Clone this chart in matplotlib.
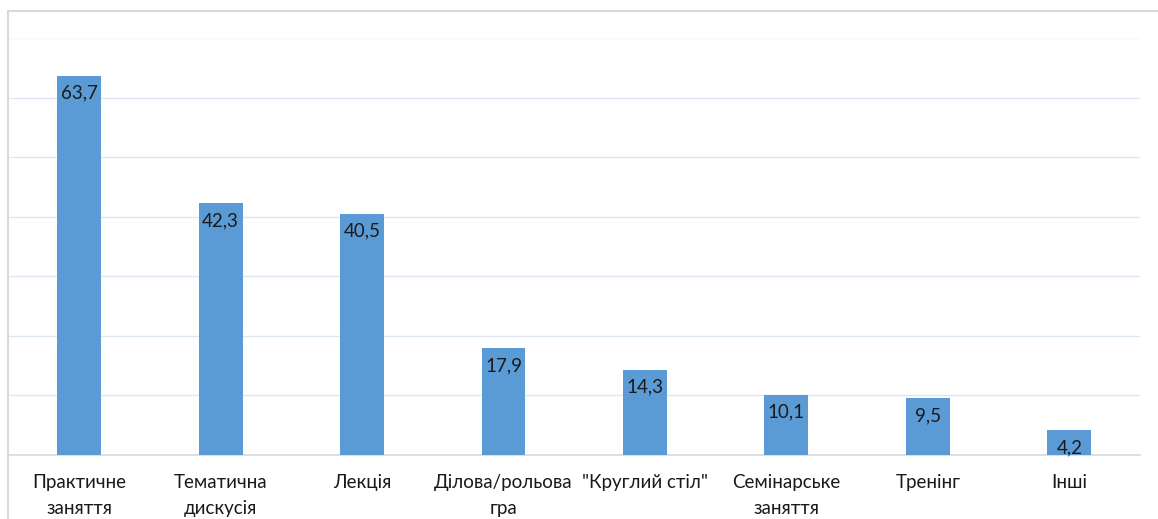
import matplotlib.pyplot as plt
import matplotlib.patches as patches
import numpy as np

plt.rcParams['font.family'] = ['Lato', 'DejaVu Sans']

categories = ['Практичне\nзаняття', 'Тематична\nдискусія', 'Лекція', 'Ділова/рольова\nгра',
              '"Круглий стіл"', 'Семінарське\nзаняття', 'Тренінг', 'Інші']
values = [63.7, 42.3, 40.5, 17.9, 14.3, 10.1, 9.5, 4.2]

fig = plt.figure(figsize=(11.58, 5.19), dpi=100)
ax = fig.add_axes([8.5 / 1158, 64 / 519, (1140 - 8.5) / 1158, (455 - 38) / 519])

x = np.arange(len(values))
bars = ax.bar(x, values, width=0.31, color='#5b9bd5', zorder=3)

#Value labels inside bar tops
for xi, v in zip(x, values):
    ax.annotate(f'{v:.1f}'.replace('.', ','), (xi, v), xytext=(0, -6.5), textcoords='offset points',
                ha='center', va='top', fontsize=13.5, color='#1a1a1a', zorder=4)

ax.set_xlim(-0.5, len(values) - 0.5)
ax.set_ylim(0, 70)
ax.set_yticks(np.arange(0, 71, 10))
ax.set_yticklabels([])
ax.tick_params(axis='y', length=0)
ax.tick_params(axis='x', length=0, pad=14)
ax.set_xticks(x)
ax.set_xticklabels(categories, fontsize=13.5, color='#1a1a1a', linespacing=1.6, va='top')

ax.grid(axis='y', color='#dde8f3', linewidth=1, zorder=0)
#top gridline is fainter in the original
ax.get_ygridlines()[-1].set_color('#f6f8fb')
for s in ['left', 'right', 'top']:
    ax.spines[s].set_visible(False)
ax.spines['bottom'].set_color('#d9d9d9')
ax.spines['bottom'].set_linewidth(1.2)

#Outer chart border (cropped at right and bottom)
fig.patches.append(patches.Rectangle((8 / 1158, -0.2), 1.2, (519 - 11) / 519 + 0.2,
                                     transform=fig.transFigure, fill=False,
                                     edgecolor='#d9d9d9', linewidth=1.5))

fig.savefig('out.png', dpi=100)
